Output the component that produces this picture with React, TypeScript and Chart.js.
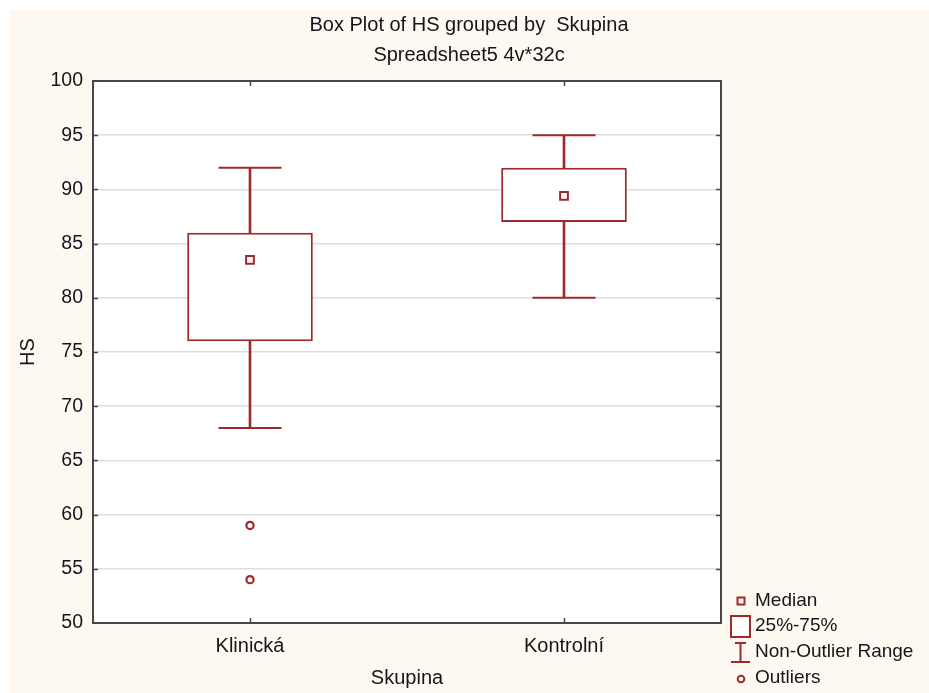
import React, { useEffect, useRef } from "react";
import { Chart, registerables } from "chart.js";

Chart.register(...registerables);

const categories = ["Klinická", "Kontrolní"];
const q1 = [76, 87];
const q3 = [86, 92];
const medians = [83.5, 89.4];
const whiskerLow = [68, 80];
const whiskerHigh = [92, 95];
const outlierCats = ["Klinická", "Klinická"];
const outlierValues = [59, 54];
const yMin = 50;
const yMax = 100;
const yStep = 5;
const titleText = "Box Plot of HS grouped by  Skupina";
const subtitleText = "Spreadsheet5 4v*32c";
const legendLabels = ["Median", "25%-75%", "Non-Outlier Range", "Outliers"];

const RED = "#9e2a2b";
const FONT = "Arial, 'Liberation Sans', sans-serif";
const TEXT = "#15151c";

const framePlugin = {
  id: "frame",
  beforeDraw(chart: any) {
    const { ctx, chartArea: a } = chart;
    ctx.save();
    ctx.fillStyle = "#ffffff";
    ctx.fillRect(a.left, a.top, a.right - a.left, a.bottom - a.top);
    ctx.restore();
  },
  afterDraw(chart: any) {
    const { ctx, chartArea: a, scales } = chart;
    ctx.save();
    ctx.strokeStyle = "#474747";
    ctx.lineWidth = 2;
    ctx.strokeRect(a.left, a.top, a.right - a.left, a.bottom - a.top);
    ctx.lineWidth = 1.5;
    ctx.beginPath();
    for (let v = yMin + yStep; v < yMax; v += yStep) {
      const y = Math.round(scales.y.getPixelForValue(v)) + 0.5;
      ctx.moveTo(a.left, y);
      ctx.lineTo(a.left + 5, y);
      ctx.moveTo(a.right, y);
      ctx.lineTo(a.right - 5, y);
    }
    categories.forEach((_, i) => {
      const x = Math.round(scales.x.getPixelForValue(i)) + 0.5;
      ctx.moveTo(x, a.top);
      ctx.lineTo(x, a.top + 5);
      ctx.moveTo(x, a.bottom);
      ctx.lineTo(x, a.bottom - 5);
    });
    ctx.stroke();

    // legend
    ctx.strokeStyle = RED;
    ctx.fillStyle = "#ffffff";
    ctx.lineWidth = 2;
    ctx.strokeRect(728.5, 587.5, 7, 7);
    ctx.fillRect(722, 606, 19, 21);
    ctx.strokeRect(722, 606, 19, 21);
    ctx.beginPath();
    ctx.moveTo(731.5, 633);
    ctx.lineTo(731.5, 652);
    ctx.moveTo(726, 633);
    ctx.lineTo(737, 633);
    ctx.moveTo(722, 652);
    ctx.lineTo(741, 652);
    ctx.stroke();
    ctx.beginPath();
    ctx.arc(732, 669, 3.3, 0, Math.PI * 2);
    ctx.stroke();
    ctx.fillStyle = TEXT;
    ctx.font = `19px ${FONT}`;
    ctx.textBaseline = "middle";
    ctx.textAlign = "left";
    const ys = [591, 616, 642, 668];
    legendLabels.forEach((t, i) => ctx.fillText(t, 746, ys[i]));
    ctx.restore();
  },
};

export default function App() {
  const ref = useRef<HTMLCanvasElement>(null);
  useEffect(() => {
    if (!ref.current) return;
    const chart = new Chart(ref.current, {
      type: "bar",
      data: {
        labels: categories,
        datasets: [
          {
            type: "line",
            data: medians,
            showLine: false,
            pointStyle: "rect",
            pointRadius: 5.5,
            pointBorderWidth: 2,
            pointBackgroundColor: "#ffffff",
            pointBorderColor: RED,
          } as any,
          {
            type: "line",
            data: outlierCats.map((c, i) => ({ x: c, y: outlierValues[i] })),
            showLine: false,
            pointStyle: "circle",
            pointRadius: 3.6,
            pointBorderWidth: 2.2,
            pointBackgroundColor: "#ffffff",
            pointBorderColor: RED,
          } as any,
          {
            type: "line",
            data: whiskerHigh,
            showLine: false,
            pointStyle: "line",
            pointRadius: 31.5,
            pointBorderWidth: 2,
            pointBorderColor: RED,
          } as any,
          {
            type: "line",
            data: whiskerLow,
            showLine: false,
            pointStyle: "line",
            pointRadius: 31.5,
            pointBorderWidth: 2,
            pointBorderColor: RED,
          } as any,
          {
            data: categories.map((_, i) => [q1[i], q3[i]]),
            backgroundColor: "#ffffff",
            borderColor: RED,
            borderWidth: 2,
            borderSkipped: false,
            barPercentage: 0.4,
            categoryPercentage: 1,
            grouped: false,
          } as any,
          {
            data: categories.map((_, i) => [q3[i], whiskerHigh[i]]),
            backgroundColor: RED,
            borderWidth: 0,
            barThickness: 2,
            grouped: false,
          } as any,
          {
            data: categories.map((_, i) => [whiskerLow[i], q1[i]]),
            backgroundColor: RED,
            borderWidth: 0,
            barThickness: 2,
            grouped: false,
          } as any,
        ],
      },
      options: {
        responsive: false,
        animation: false,
        events: [],
        layout: { padding: { left: 0, right: 0, top: 0, bottom: 0 } },
        plugins: {
          legend: { display: false },
          tooltip: { enabled: false },
          title: {
            display: true,
            text: titleText,
            color: TEXT,
            font: { family: FONT, size: 20, weight: "normal" },
            padding: { top: 3, bottom: 6 },
          },
          subtitle: {
            display: true,
            text: subtitleText,
            color: TEXT,
            font: { family: FONT, size: 20, weight: "normal" },
            padding: { top: 0, bottom: 14 },
          },
        },
        scales: {
          x: {
            grid: { display: false, drawTicks: false },
            border: { display: false },
            ticks: {
              color: TEXT,
              font: { family: FONT, size: 20 },
              padding: 11,
            },
            title: {
              display: true,
              text: "Skupina",
              color: TEXT,
              font: { family: FONT, size: 20 },
              padding: { top: 0, bottom: 3 },
            },
            afterFit(scale: any) {
              scale.height = 70;
            },
          },
          y: {
            min: yMin,
            max: yMax,
            grid: { color: "#dedede", lineWidth: 1.5, drawTicks: false },
            border: { display: false },
            ticks: {
              stepSize: yStep,
              color: TEXT,
              font: { family: FONT, size: 19.5 },
              padding: 10,
            },
            title: {
              display: true,
              text: "HS",
              color: TEXT,
              font: { family: FONT, size: 20 },
              padding: { top: 7, bottom: 0 },
            },
            afterFit(scale: any) {
              scale.width = 84;
            },
          },
          yRight: {
            position: "right",
            display: true,
            grid: { display: false, drawTicks: false },
            border: { display: false },
            ticks: { display: false },
            afterFit(scale: any) {
              scale.width = 208;
            },
          },
        },
      } as any,
      plugins: [framePlugin],
    });
    return () => chart.destroy();
  }, []);

  return (
    <div
      style={{
        position: "absolute",
        left: 9,
        top: 10,
        width: 920,
        height: 683,
        background: "#fef9f0",
      }}
    >
      <canvas ref={ref} width={920} height={683} style={{ display: "block" }} />
    </div>
  );
}
